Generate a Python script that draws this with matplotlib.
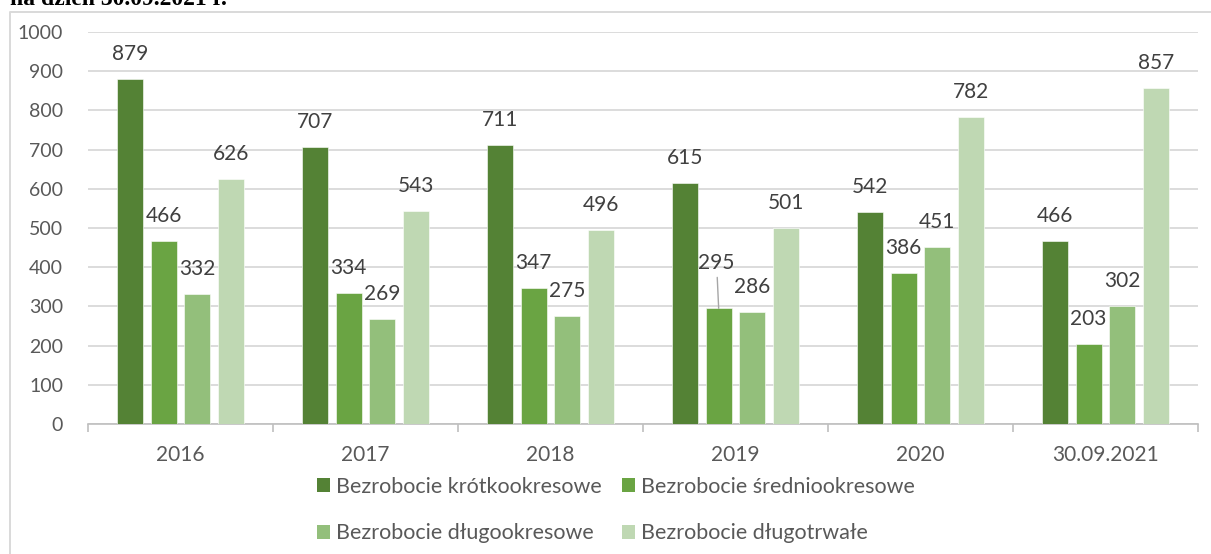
import numpy as np
import matplotlib.pyplot as plt
from matplotlib.lines import Line2D
from matplotlib.patches import Patch

plt.rcParams['font.family'] = ['Lato', 'DejaVu Sans']

# data
categories = ['2016', '2017', '2018', '2019', '2020', '30.09.2021']
short_term = [879, 707, 711, 615, 542, 466]
medium_term = [466, 334, 347, 295, 386, 203]
long_term = [332, 269, 275, 286, 451, 302]
very_long_term = [626, 543, 496, 501, 782, 857]
series_names = ['Bezrobocie krótkookresowe', 'Bezrobocie średniookresowe',
                'Bezrobocie długookresowe', 'Bezrobocie długotrwałe']
colors = ['#548235', '#6AA443', '#93BF7B', '#BFD8B3']

W, H = 1211, 554
fig = plt.figure(figsize=(W / 100, H / 100), dpi=100)

# cut-off heading above the chart frame
fig.text(10 / W, 1 - 5 / H, 'na dzień 30.09.2021 r.', family='Liberation Serif',
         weight='bold', fontsize=17, va='baseline', ha='left')

# outer chart frame (only top and left visible)
fig.add_artist(Line2D([10 / W, 10 / W, 1.0], [0.0, 1 - 12 / H, 1 - 12 / H],
                      transform=fig.transFigure, color='#d9d9d9', lw=1.4))

ax = fig.add_axes([88 / W, 1 - 424 / H, (1198 - 88) / W, (424 - 32) / H])

x = np.arange(len(categories))
step = 0.182
width = 0.1405
all_series = [short_term, medium_term, long_term, very_long_term]

handles = []
for i, (vals, name, c) in enumerate(zip(all_series, series_names, colors)):
    pos = x + (i - 1.5) * step
    ax.bar(pos, vals, width, color=c, edgecolor='white', linewidth=0.4, zorder=3)
    handles.append(Patch(facecolor=c, label=name))
    for j, (p, v) in enumerate(zip(pos, vals)):
        if i == 1 and categories[j] == '2019':
            ax.annotate(str(v), (p, v), xytext=(-1.5, 32.5), textcoords='offset points',
                        ha='center', va='center', fontsize=15, color='#404040',
                        arrowprops=dict(arrowstyle='-', color='#a6a6a6', lw=1,
                                        shrinkA=1, shrinkB=0))
        else:
            ax.annotate(str(v), (p, v), xytext=(0, 18), textcoords='offset points',
                        ha='center', va='center', fontsize=15, color='#404040')

ax.set_xlim(-0.5, len(categories) - 0.5)
ax.set_ylim(0, 1000)
ax.set_yticks(range(0, 1001, 100))
ax.grid(axis='y', color='#d9d9d9', lw=1.3, zorder=0)
ax.set_axisbelow(True)

ax.set_xticks(x)
ax.set_xticklabels(categories)
ax.set_xticks(np.arange(-0.5, len(categories), 1), minor=True)
ax.tick_params(axis='x', which='major', length=0, pad=15, labelsize=15, labelcolor='#595959')
ax.tick_params(axis='x', which='minor', length=6, width=1.2, color='#bfbfbf', direction='out')
ax.tick_params(axis='y', length=0, pad=18, labelsize=14, labelcolor='#595959')

for s in ['top', 'right', 'left']:
    ax.spines[s].set_visible(False)
ax.spines['bottom'].set_color('#bfbfbf')
ax.spines['bottom'].set_linewidth(1.2)

# legend: row 1 short/medium, row 2 long/very long
order = [0, 2, 1, 3]
fig.legend([handles[k] for k in order], [series_names[k] for k in order],
           loc='upper left', bbox_to_anchor=(308 / W, 1 - 468 / H), ncol=2,
           frameon=False, fontsize=15.5, labelcolor='#595959',
           handlelength=0.62, handleheight=0.62, handletextpad=0.3,
           columnspacing=0.9, labelspacing=1.24, borderaxespad=0)

fig.savefig('out.png', dpi=100)
